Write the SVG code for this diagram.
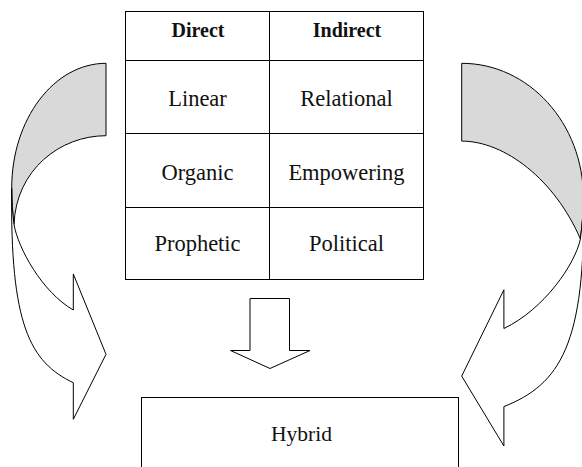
<svg xmlns="http://www.w3.org/2000/svg" width="582" height="467" viewBox="0 0 582 467">
  <style>
    .ln { fill: none; stroke: #000; stroke-width: 1; }
    .box { fill: #fff; stroke: #000; stroke-width: 1; }
    .back { fill: #d9d9d9; stroke: #000; stroke-width: 1; stroke-linejoin: miter; }
    .front { fill: #fff; stroke: #000; stroke-width: 1; stroke-linejoin: miter; }
    text { font-family: 'Liberation Serif', 'DejaVu Serif', 'Times New Roman', serif; fill: #111; text-anchor: middle; }
    .t { font-size: 22.5px; }
    .h { font-size: 20px; font-weight: bold; }
  </style>

  <rect width="582" height="467" fill="#fff"/>

  <!-- styles table -->
  <g id="table">
    <rect class="box" x="125.5" y="11.5" width="298" height="268"/>
    <path class="ln" d="M269.5,11.5 V279.5 M125.5,60.5 H423.5 M125.5,133.5 H423.5 M125.5,207.5 H423.5"/>
    <g id="cell-direct"><text class="h" x="198" y="37" font-family="Liberation Serif, serif">Direct</text></g>
    <g id="cell-indirect"><text class="h" x="347" y="37" font-family="Liberation Serif, serif">Indirect</text></g>
    <g id="cell-linear"><text class="t" x="197.5" y="106" font-family="Liberation Serif, serif">Linear</text></g>
    <g id="cell-relational"><text class="t" x="346.5" y="106" font-family="Liberation Serif, serif">Relational</text></g>
    <g id="cell-organic"><text class="t" x="197.5" y="179.5" font-family="Liberation Serif, serif">Organic</text></g>
    <g id="cell-empowering"><text class="t" x="346.5" y="179.5" font-family="Liberation Serif, serif">Empowering</text></g>
    <g id="cell-prophetic"><text class="t" x="197.5" y="250.5" font-family="Liberation Serif, serif">Prophetic</text></g>
    <g id="cell-political"><text class="t" x="346.5" y="250.5" font-family="Liberation Serif, serif">Political</text></g>
  </g>

  <!-- result box, open at the lower edge -->
  <g id="hybrid">
    <rect class="box" x="141.5" y="397.5" width="317" height="80"/>
    <text class="t" x="301.5" y="441" font-family="Liberation Serif, serif" style="font-size:21.5px">Hybrid</text>
  </g>

  <g id="connectors">
    <!-- block arrow from table down to the result -->
    <path class="front" d="M250,298.5 H289.5 V350.5 H310 L270,368.5 L230.5,350.5 H250 Z"/>

    <!-- left curved arrow: shaded back band, then front band with head -->
    <g id="curve-left">
      <path class="back" d="M106,63.3 C54,63.3 11.7,119.2 11.7,188.3 C11.7,200 12.5,213 14,224.5 C16,170 60,135.7 106,135.7 Z"/>
      <path class="front" d="M11.7,188.3 C10,325 30,362 73.3,382.7 L73.3,419.3 L106,354.3 L73.3,274 L73.3,310 C42,292 18,248 14,224.5 C12.5,213 11.7,200 11.7,188.3 Z"/>
    </g>

    <!-- right curved arrow, mirrored and a little larger -->
    <g id="curve-right">
      <path class="back" d="M461.7,63.3 C528.8,63.3 583.4,123.4 583.4,197.7 C583.4,210.3 582.3,224.2 580.4,239 C555,180 505,141.1 461.7,141.1 Z"/>
      <path class="front" d="M583.4,197.7 C586,345 559.7,384.4 503.9,406.6 L503.9,446 L461.7,376.1 L503.9,289.8 L503.9,328.5 C544.3,309.2 575.2,264 580.4,239 C582.3,224.2 583.4,210.3 583.4,197.7 Z"/>
    </g>
  </g>
</svg>
